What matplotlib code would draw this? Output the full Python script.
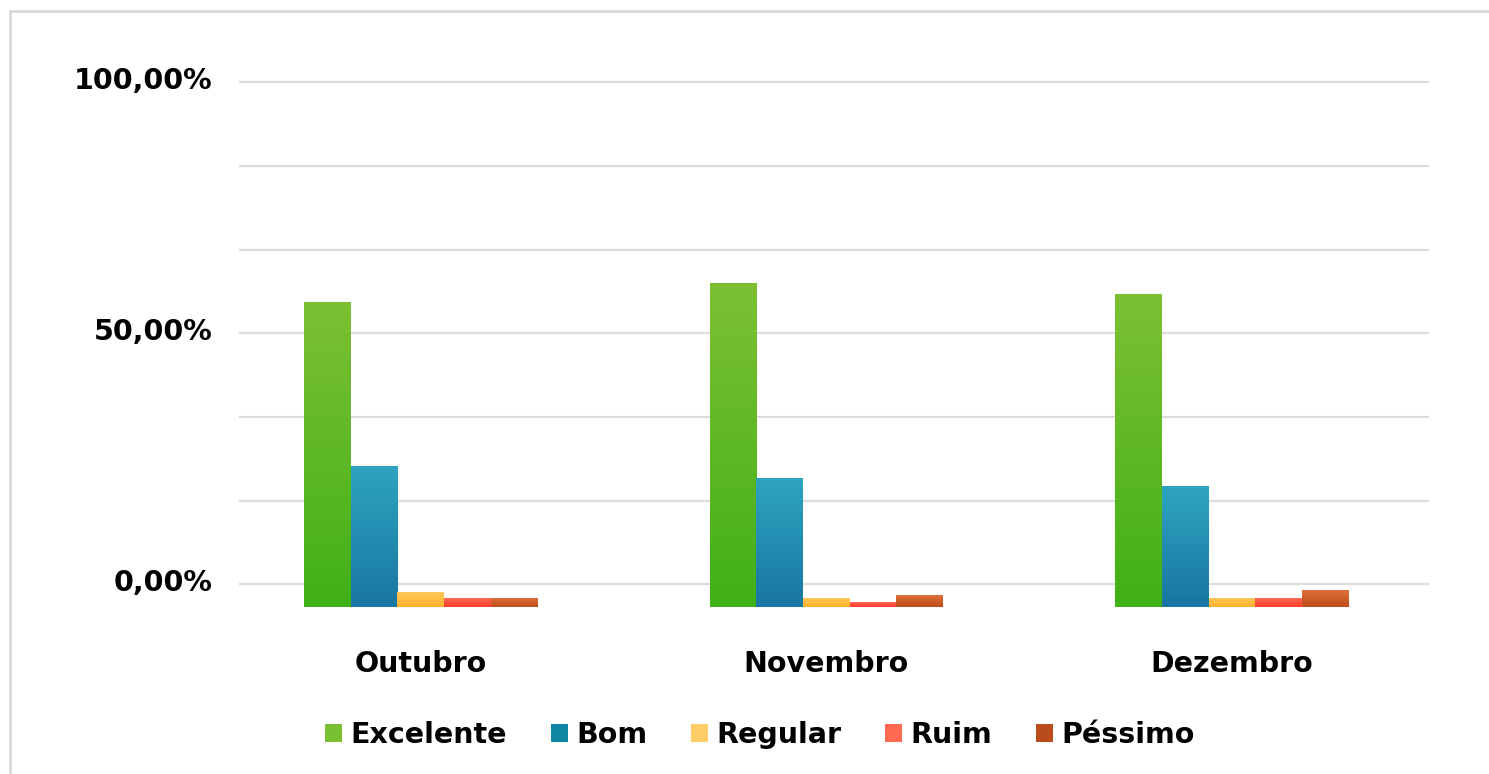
import matplotlib
matplotlib.use("Agg")
import matplotlib.pyplot as plt
import matplotlib.transforms as mtransforms
import numpy as np
from matplotlib.colors import LinearSegmentedColormap
from matplotlib.patches import Patch, Rectangle

# survey results per month (percent, as read on the axis)
months = ["Outubro", "Novembro", "Dezembro"]
series = ["Excelente", "Bom", "Regular", "Ruim", "Péssimo"]
excelente = [56.2, 60.0, 57.8]
bom = [23.6, 21.2, 19.6]
regular = [-1.5, -2.7, -2.7]
ruim = [-2.7, -3.5, -2.7]
pessimo = [-2.7, -2.1, -1.1]
floor = -4.5  # bars start below the zero line

ytick_vals = [0, 50, 100]
ytick_labels = ["0,00%", "50,00%", "100,00%"]
grid_vals = [0, 100 / 6, 200 / 6, 50, 400 / 6, 500 / 6, 100]

values = [excelente, bom, regular, ruim, pessimo]
# (bottom, top) gradient colours per series, plus flat legend colours
grads = [("#40b018", "#7dc034"), ("#1876a2", "#2ea4c0"), ("#ffb22c", "#ffc95c"),
         ("#ff3d2e", "#ff6c52"), ("#bd4e1c", "#e0713b")]
legend_cols = ["#7abf32", "#0d87a3", "#ffcc66", "#ff6a50", "#b94c1a"]

plt.rcParams["font.family"] = "DejaVu Sans"
plt.rcParams["font.weight"] = "bold"

fig = plt.figure(figsize=(14.89, 7.74), dpi=100)
ax = fig.add_axes([239 / 1489, 167 / 774, (1428.7 - 239) / 1489, (607 - 72.4) / 774])

x = np.arange(len(months))
w = 0.115
grad = np.linspace(0, 1, 256).reshape(-1, 1)
for i, (vals, (c0, c1)) in enumerate(zip(values, grads)):
    heights = [v - floor for v in vals]
    bars = ax.bar(x + (i - 2) * w, heights, w, bottom=floor, color=c1, linewidth=0, zorder=2)
    cmap = LinearSegmentedColormap.from_list("g%d" % i, [c0, c1])
    for b in bars:
        im = ax.imshow(grad, cmap=cmap, origin="lower", aspect="auto", zorder=3,
                       extent=(b.get_x(), b.get_x() + b.get_width(), b.get_y(), b.get_y() + b.get_height()))
        im.set_clip_path(b)

ax.set_xlim(-0.448, 2.485)
ax.set_ylim(floor, 102)

for g in grid_vals:
    ax.axhline(g, color="#dcdcdc", lw=1.6, zorder=1)

ax.set_yticks(ytick_vals)
ax.set_yticklabels(ytick_labels, fontsize=20.5, fontweight="bold")
ax.set_xticks(x)
ax.set_xticklabels(months, fontsize=20.5, fontweight="bold")
ax.tick_params(axis="y", length=0, pad=19)
ax.tick_params(axis="x", length=0, pad=31)
# labels sit a little above their gridlines
lift = mtransforms.ScaledTranslation(0, 4 / 100, fig.dpi_scale_trans)
for lab in ax.get_yticklabels():
    lab.set_transform(lab.get_transform() + lift)
for s in ax.spines.values():
    s.set_visible(False)

handles = [Patch(facecolor=c, edgecolor="none") for c in legend_cols]
fig.legend(handles, series, loc="center", bbox_to_anchor=(760 / 1489, 1 - 735 / 774), ncol=5,
           frameon=False, prop={"size": 20.5, "weight": "bold"}, handlelength=0.6, handleheight=0.6,
           handletextpad=0.28, columnspacing=1.55)

# outer frame
fig.patches.append(Rectangle((10 / 1489, -0.1), 1.2, (774 - 11) / 774 + 0.1, transform=fig.transFigure,
                             fill=False, edgecolor="#d9d9d9", lw=2))

fig.savefig("out.png", dpi=100)
